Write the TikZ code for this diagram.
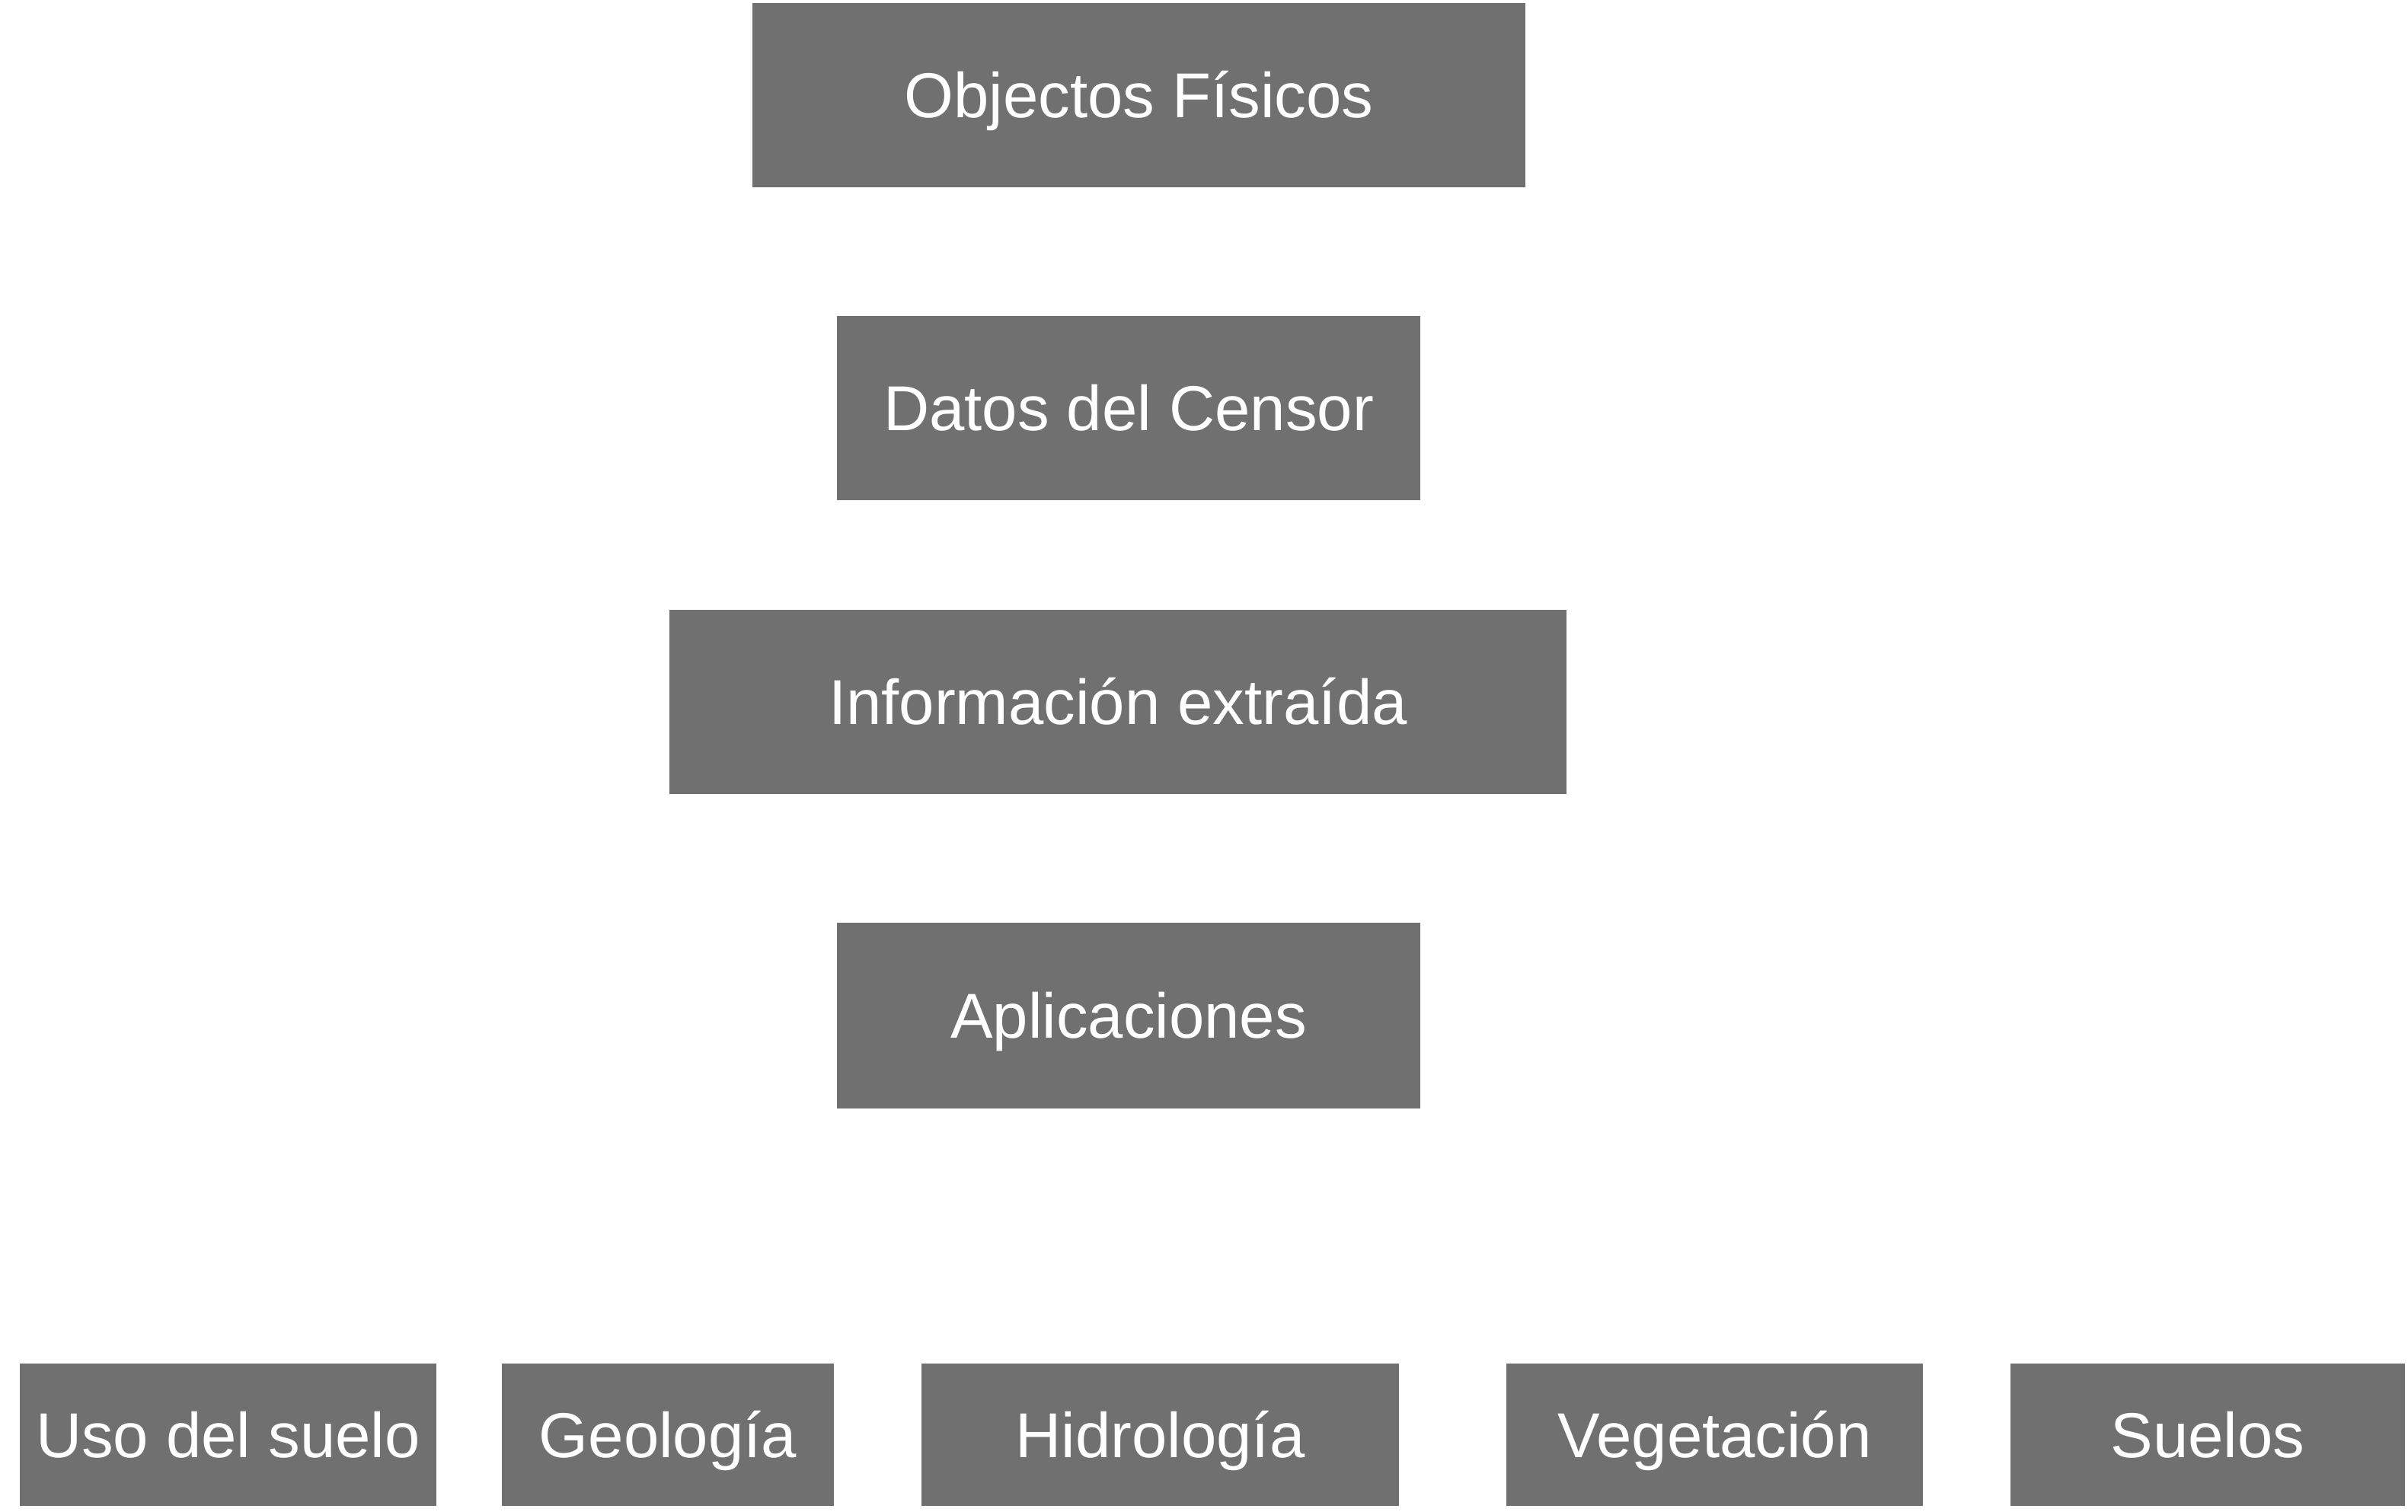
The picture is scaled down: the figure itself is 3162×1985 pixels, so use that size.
\documentclass[tikz,border=0pt]{standalone}
\usepackage{fontspec}
\setmainfont{Liberation Sans}
\definecolor{boxgray}{HTML}{707070}
\begin{document}
\begin{tikzpicture}[x=0.24pt,y=-0.24pt,
  gbox/.style={fill=boxgray, draw=none, text=white, inner sep=0pt,
    font=\fontsize{20}{24}\selectfont, text height=14.3pt, text depth=0pt,
    minimum height=58.08pt}]
\useasboundingbox (0,0) rectangle (3162,1985);
\fill[white] (0,0) rectangle (3162,1985);
\node[gbox, minimum width=243.6pt] (obj) at (1495.5,125) {Objectos Físicos};
\node[gbox, minimum width=183.84pt] (dat) at (1482,536) {Datos del Censor};
\node[gbox, minimum width=282.72pt] (inf) at (1468,922) {Información extraída};
\node[gbox, minimum width=183.84pt, minimum height=58.56pt] (apl) at (1482,1334) {Aplicaciones};
\node[gbox, minimum width=131.28pt, minimum height=44.88pt] (uso) at (299.5,1884.5) {Uso del suelo};
\node[gbox, minimum width=104.64pt, minimum height=44.88pt] (geo) at (877,1884.5) {Geología};
\node[gbox, minimum width=150.48pt, minimum height=44.88pt] (hid) at (1523.5,1884.5) {Hidrología};
\node[gbox, minimum width=131.28pt, minimum height=44.88pt] (veg) at (2251.5,1884.5) {Vegetación};
\node[gbox, minimum width=124.32pt, minimum height=44.88pt] (sue) at (2899,1884.5) {Suelos};
\end{tikzpicture}
\end{document}
